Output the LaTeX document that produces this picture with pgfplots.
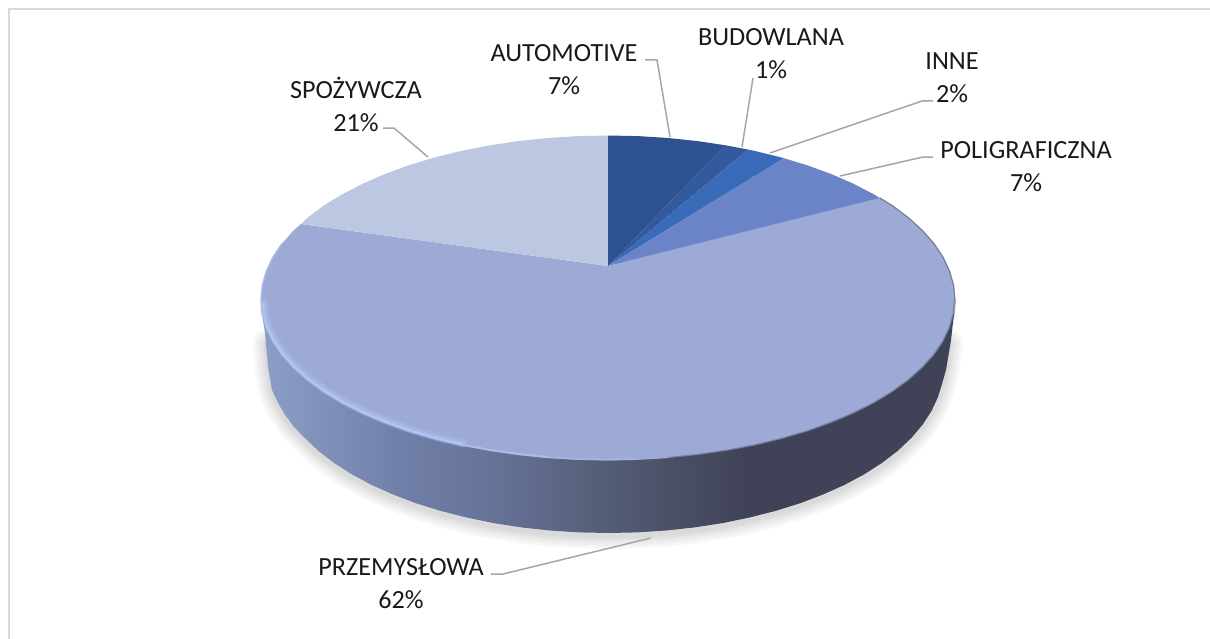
\documentclass[border=0pt]{standalone}
\usepackage{pgfplots}
\pgfplotsset{compat=1.18}
\usepackage{pgfplotstable}
\usepackage{fontspec}
\setmainfont{Carlito}
\pgfdeclarehorizontalshading{wallshade}{100bp}{
  rgb(0bp)=(0.55,0.62,0.78);
  rgb(25bp)=(0.55,0.62,0.78);
  rgb(35bp)=(0.44,0.50,0.66);
  rgb(42bp)=(0.40,0.45,0.59);
  rgb(50bp)=(0.33,0.36,0.46);
  rgb(60bp)=(0.25,0.26,0.34);
  rgb(100bp)=(0.25,0.26,0.34)}
\definecolor{autoC}{HTML}{2D528F}
\definecolor{budC}{HTML}{33599F}
\definecolor{inneC}{HTML}{3A6BB8}
\definecolor{poliC}{HTML}{6B84C7}
\definecolor{przeC}{HTML}{9CAAD5}
\definecolor{spoC}{HTML}{BCC7E2}
\definecolor{leadC}{HTML}{A6A6A6}
\definecolor{rimC}{HTML}{B2C4F2}
% outlines in image pixels
\pgfplotstableread{
x y
608 266
301 224
293.5 230.5
281.9 243.7
272.8 257.4
266.3 271.4
262.3 285.7
261 300
262.3 314
266.3 327.9
272.8 341.5
281.9 354.9
293.5 367.8
307.5 380.3
323.7 392.1
342.2 403.2
362.6 413.5
384.9 422.9
409 431.5
434.5 439
461.4 445.5
489.3 450.8
518.2 455
547.8 458.1
577.7 459.9
608 460.5
638.3 459.9
668.2 458.1
697.8 455
726.7 450.8
754.6 445.5
781.5 439
807 431.5
831.1 422.9
853.4 413.5
873.8 403.2
892.3 392.1
908.5 380.3
922.5 367.8
934.1 354.9
943.2 341.5
949.7 327.9
953.7 314
955 300
953.7 285.7
949.7 271.4
943.2 257.4
934.1 243.7
922.5 230.5
908.5 217.7
892.3 205.6
880 198
}\przeTop
\pgfplotstableread{
x y
262 314
265 333
268 367
272 390
278.1 403
284.4 414
293.2 426
304.4 437.7
317.9 450.5
333.6 462.6
351.4 474.1
371.1 484.7
392.7 494.4
415.8 503.2
440.5 510.9
466.4 517.5
493.4 523.1
521.3 527.4
549.8 530.5
578.8 532.4
608 533
637.2 532.4
666.2 530.5
694.7 527.4
722.6 523.1
749.6 517.5
775.6 510.9
800.2 503.2
823.3 494.4
844.9 484.7
864.6 474.1
882.4 462.6
898.1 450.5
911.6 437.7
922.8 424.4
931.6 410.7
938 397
942 384
946 370
951 340
954 314
608 300
}\wall
\pgfplotstableread{
x y
266 340
268 367
272 390
278.1 403
284.4 414
293.2 426
304.4 437.7
317.9 450.5
333.6 462.6
351.4 474.1
371.1 484.7
392.7 494.4
415.8 503.2
440.5 510.9
466.4 517.5
493.4 523.1
521.3 527.4
549.8 530.5
578.8 532.4
608 533
637.2 532.4
666.2 530.5
694.7 527.4
722.6 523.1
749.6 517.5
775.6 510.9
800.2 503.2
823.3 494.4
844.9 484.7
864.6 474.1
882.4 462.6
898.1 450.5
911.6 437.7
922.8 424.4
931.6 410.7
938 397
942 384
946 370
950 340
}\shadowline
\pgfplotstableread{
x y
262.3 305
262.3 314
266.3 327.9
272.8 341.5
281.9 354.9
293.5 367.8
307.5 380.3
323.7 392.1
342.2 403.2
362.6 413.5
384.9 422.9
409 431.5
434.5 439
461.4 445.5
}\rimline
\newcommand{\lbl}[2]{\node[align=center,font=\fontsize{26.3}{33}\selectfont,text=black!90] at (axis cs:#1) {#2};}
\begin{document}
\begin{tikzpicture}
\begin{axis}[
  scale only axis, width=1210bp, height=639bp,
  xmin=0, xmax=1210, ymin=0, ymax=639, y dir=reverse,
  axis lines=none, clip=false
]
% keeps the page at full size
\addplot[draw=none] coordinates {(0,0)(1210,639)};
\path[use as bounding box] (axis cs:0,0) rectangle (axis cs:1210,639);
% chart frame, only top and left reach the picture
\addplot[draw=black!15, line width=2bp] coordinates {(1210,9)(9,9)(9,639)};
% soft shadow under the pie
\addplot[draw=black, opacity=0.03, line width=26bp, line join=round, line cap=round, yshift=-3bp] table {\shadowline};
\addplot[draw=black, opacity=0.03, line width=20bp, line join=round, line cap=round, yshift=-3bp] table {\shadowline};
\addplot[draw=black, opacity=0.03, line width=14bp, line join=round, line cap=round, yshift=-3bp] table {\shadowline};
\addplot[draw=black, opacity=0.03, line width=9bp, line join=round, line cap=round, yshift=-3bp] table {\shadowline};
\addplot[draw=black, opacity=0.03, line width=5bp, line join=round, line cap=round, yshift=-3bp] table {\shadowline};
% side wall
\addplot[draw=none, shading=wallshade, shading angle=0] table {\wall};
% top face slices
\addplot[fill=przeC, draw=none] table {\przeTop};
\addplot[fill=spoC, draw=none] coordinates {(608,266)(301,224)(307.5,217.7)(323.7,205.6)(342.2,194.3)(362.6,183.7)(384.9,174)(409,165.2)(434.5,157.5)(461.4,150.9)(489.3,145.4)(518.2,141.1)(547.8,138)(577.7,136.1)(608,135.5)};
\addplot[fill=autoC, draw=none] coordinates {(608,266)(608,135.5)(638.3,136.1)(668.2,138)(697.8,141.1)(725,145.2)};
\addplot[fill=budC, draw=none] coordinates {(608,266)(725,145.2)(748,149.5)};
\addplot[fill=inneC, draw=none] coordinates {(608,266)(748,149.5)(754.6,150.9)(781.5,157.5)(784,158.2)};
\addplot[fill=poliC, draw=none] coordinates {(608,266)(784,158.2)(807,165.2)(831.1,174)(853.4,183.7)(873.8,194.3)(880,198)};
% rim light on the lower left edge, soft layers then core, just inside the edge
\addplot[draw=rimC, opacity=0.3, line width=8bp, line cap=round, xshift=2bp, yshift=2bp] table {\rimline};
\addplot[draw=rimC, opacity=0.4, line width=5bp, line cap=round, xshift=1.5bp, yshift=1.5bp] table {\rimline};
\addplot[draw=rimC, line width=2.2bp, line cap=round, xshift=1bp, yshift=1bp] table {\rimline};
\addplot[draw=rimC!70!przeC, line width=2bp, yshift=1bp] coordinates {(461.4,445.5)(489.3,450.8)(518.2,455)(547.8,458.1)};
\addplot[draw=rimC!35!przeC, line width=1.8bp, yshift=1bp] coordinates {(547.8,458.1)(577.7,459.9)(608,460.5)(638.3,459.9)};
\addplot[draw=rimC!60!przeC, line width=1.5bp] coordinates {(281.9,243.7)(272.8,257.4)(266.3,271.4)(262.3,285.7)(261,300)(262.3,314)};
% darker blurred edge on the right
\addplot[draw=black!55!przeC, opacity=0.45, line width=2.2bp] coordinates {(668.2,458.1)(697.8,455)(726.7,450.8)(754.6,445.5)(781.5,439)(807,431.5)(831.1,422.9)(853.4,413.5)(873.8,403.2)(892.3,392.1)(908.5,380.3)(922.5,367.8)(934.1,354.9)(943.2,341.5)(949.7,327.9)(953.7,314)(955,300)};
\addplot[draw=black!45!przeC, opacity=0.7, line width=1.2bp] coordinates {(880,198)(892.3,205.6)(908.5,217.7)(922.5,230.5)(934.1,243.7)(943.2,257.4)(949.7,271.4)(953.7,285.7)(955,300)};
% leader lines
\addplot[draw=leadC, line width=1.5bp] coordinates {(645,60)(657,60)(670,137)};
\addplot[draw=leadC, line width=1.5bp] coordinates {(753,78)(742,147)};
\addplot[draw=leadC, line width=1.5bp] coordinates {(933,101)(922,101)(770,153)};
\addplot[draw=leadC, line width=1.5bp] coordinates {(933,157)(923,157)(840,176)};
\addplot[draw=leadC, line width=1.5bp] coordinates {(383,128)(394,128)(428,157)};
\addplot[draw=leadC, line width=1.5bp] coordinates {(491,574)(503,574)(651,538)};
% labels
\lbl{564,70}{AUTOMOTIVE\\7\%}
\lbl{771,54}{BUDOWLANA\\1\%}
\lbl{952,78}{INNE\\2\%}
\lbl{1026,167}{POLIGRAFICZNA\\7\%}
\lbl{356,104}{SPOŻYWCZA\\21\%}
\lbl{401,584}{PRZEMYSŁOWA\\62\%}
\end{axis}
\end{tikzpicture}
\end{document}
